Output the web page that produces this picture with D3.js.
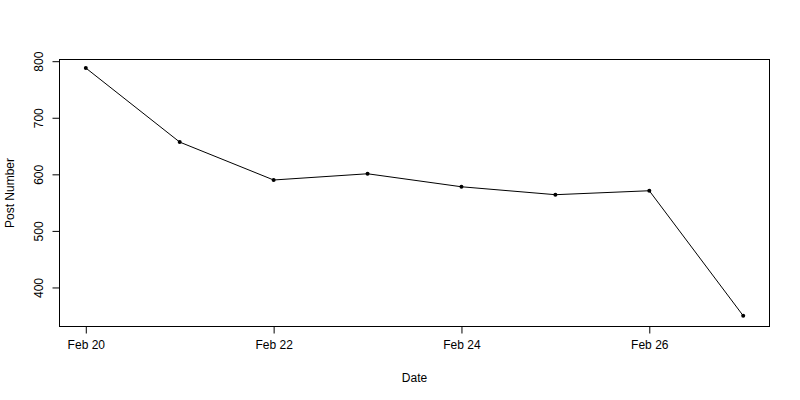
<!DOCTYPE html>
<html><head><meta charset="utf-8">
<script src="https://cdn.jsdelivr.net/npm/d3@7"></script>
<style>body{margin:0;background:#fff}svg{display:block}text{font-family:"Liberation Sans",Arial,sans-serif;fill:#000}</style>
</head><body><svg id="c" width="800" height="400"></svg>
<script>
const dates = ["2024-02-20","2024-02-21","2024-02-22","2024-02-23","2024-02-24","2024-02-25","2024-02-26","2024-02-27"];
const posts = [788, 657, 590, 601, 578, 564, 571, 350];
const xTickDates = ["2024-02-20","2024-02-22","2024-02-24","2024-02-26"];
const yTicks = [400, 500, 600, 700, 800];
const yDomain = [331, 803];
const xTitle = "Date", yTitle = "Post Number";

const parse = d3.timeParse("%Y-%m-%d");
const data = dates.map((d,i)=>({date:parse(d), v:posts[i]}));
const svg = d3.select("#c");
const L=59.5, R=769.5, T=59.5, B=326.5;

const xe = d3.extent(data,d=>+d.date), xp=(xe[1]-xe[0])*0.04;
const x = d3.scaleTime().domain([new Date(xe[0]-xp), new Date(xe[1]+xp)]).range([L,R]);
const y = d3.scaleLinear().domain(yDomain).range([B,T]);

const fmt = d3.timeFormat("%b %d");
const xa = svg.append("g").attr("transform",`translate(0,${B})`)
  .call(d3.axisBottom(x).tickValues(xTickDates.map(parse)).tickFormat(fmt).tickSizeInner(7).tickSizeOuter(0).tickPadding(7));
xa.select(".domain").remove();
xa.selectAll("text").attr("font-size",12).style("font-family","Liberation Sans, Arial, sans-serif");
xa.selectAll("line").attr("stroke","#000");

const ya = svg.append("g").attr("transform",`translate(${L},0)`)
  .call(d3.axisLeft(y).tickValues(yTicks).tickSizeInner(7).tickSizeOuter(0));
ya.select(".domain").remove();
ya.selectAll("line").attr("stroke","#000");
ya.selectAll("text").attr("font-size",12).style("font-family","Liberation Sans, Arial, sans-serif")
  .attr("x",null).attr("dy",null).attr("text-anchor","middle")
  .attr("transform","translate(-17,0) rotate(-90)");

svg.append("rect").attr("x",L).attr("y",T).attr("width",R-L).attr("height",B-T)
  .attr("fill","none").attr("stroke","#000").attr("stroke-width",1);

svg.append("path").datum(data).attr("fill","none").attr("stroke","#000").attr("stroke-width",1)
  .attr("d", d3.line().x(d=>x(d.date)).y(d=>y(d.v)));
svg.selectAll("circle").data(data).enter().append("circle")
  .attr("cx",d=>x(d.date)).attr("cy",d=>y(d.v)).attr("r",2).attr("fill","#000");

svg.append("text").attr("x",(L+R)/2).attr("y",382).attr("text-anchor","middle").attr("font-size",12).text(xTitle);
svg.append("text").attr("transform",`translate(14,${(T+B)/2}) rotate(-90)`).attr("text-anchor","middle").attr("font-size",12).text(yTitle);
</script></body></html>
